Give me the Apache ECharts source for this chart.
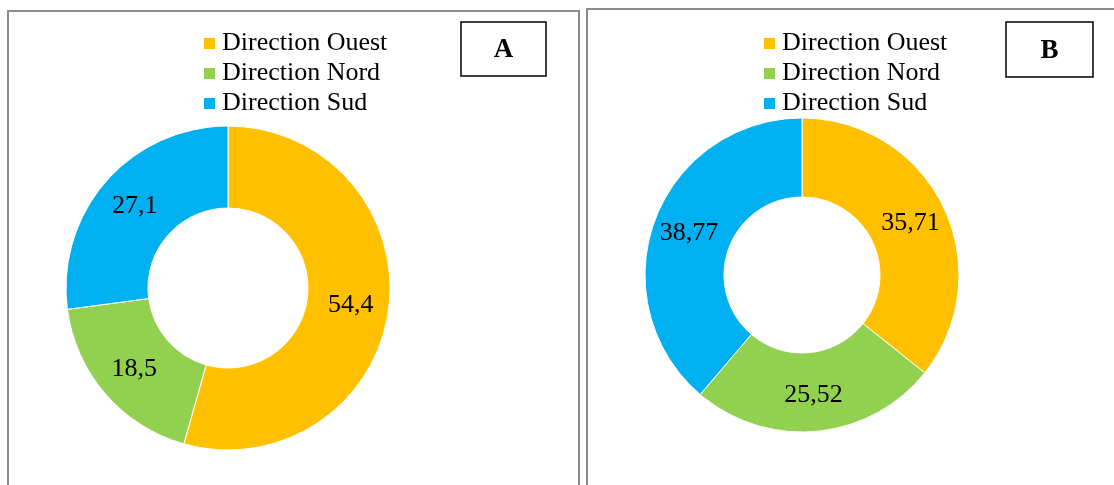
<!DOCTYPE html>
<html>
<head>
<meta charset="utf-8">
<script src="https://cdn.jsdelivr.net/npm/echarts@6/dist/echarts.min.js"></script>
<style>
html,body{margin:0;padding:0;background:#fff;}
#c{width:1114px;height:485px;}
</style>
</head>
<body>
<div id="c"></div>
<script>
const categories = ['Direction Ouest', 'Direction Nord', 'Direction Sud'];
const valuesA = [54.4, 18.5, 27.1];
const valuesB = [35.71, 25.52, 38.77];
const colors = ['#FFC000', '#92D050', '#00B0F0'];
const panelLabels = ['A', 'B'];

const font = '"Liberation Serif", "Times New Roman", serif';
const chart = echarts.init(document.getElementById('c'), null, {renderer: 'canvas'});

function mkData(vals) {
  return categories.map((n, i) => ({name: n, value: vals[i], itemStyle: {color: colors[i]}}));
}
function fmt(p) { return String(p.value).replace('.', ','); }

const legendBase = {
  orient: 'vertical',
  data: categories,
  icon: 'rect',
  itemWidth: 13,
  itemHeight: 13,
  itemGap: 4,
  selectedMode: false,
  textStyle: {fontFamily: font, fontSize: 26, color: '#000', lineHeight: 26, padding: [0, 0, 0, 1]},
  padding: 0
};

chart.setOption({
  animation: false,
  backgroundColor: '#fff',
  legend: [
    Object.assign({}, legendBase, {left: 202, top: 30.5}),
    Object.assign({}, legendBase, {left: 762, top: 30.5})
  ],
  graphic: [
    {type: 'rect', shape: {x: 8, y: 11, width: 571, height: 490}, style: {fill: 'none', stroke: '#8c8c8c', lineWidth: 2}},
    {type: 'rect', shape: {x: 587, y: 9, width: 540, height: 492}, style: {fill: 'none', stroke: '#8c8c8c', lineWidth: 2}},
    {type: 'rect', shape: {x: 461, y: 22, width: 85, height: 54}, style: {fill: '#fff', stroke: '#000', lineWidth: 1.5}},
    {type: 'rect', shape: {x: 1006, y: 22, width: 87, height: 55}, style: {fill: '#fff', stroke: '#000', lineWidth: 1.5}},
    {type: 'text', x: 503.5, y: 50, style: {text: panelLabels[0], font: 'bold 27px ' + font, fill: '#000', align: 'center', verticalAlign: 'middle'}},
    {type: 'text', x: 1049.5, y: 51, style: {text: panelLabels[1], font: 'bold 27px ' + font, fill: '#000', align: 'center', verticalAlign: 'middle'}}
  ],
  series: [
    {
      type: 'pie',
      center: [228, 288],
      radius: [80, 162],
      startAngle: 90,
      clockwise: true,
      silent: true,
      itemStyle: {borderColor: '#fff', borderWidth: 1},
      label: {show: true, position: 'inside', formatter: fmt, fontFamily: font, fontSize: 26, color: '#000'},
      labelLine: {show: false},
      data: mkData(valuesA)
    },
    {
      type: 'pie',
      center: [802, 275],
      radius: [78, 157],
      startAngle: 90,
      clockwise: true,
      silent: true,
      itemStyle: {borderColor: '#fff', borderWidth: 1},
      label: {show: true, position: 'inside', formatter: fmt, fontFamily: font, fontSize: 26, color: '#000'},
      labelLine: {show: false},
      data: mkData(valuesB)
    }
  ]
});
</script>
</body>
</html>
